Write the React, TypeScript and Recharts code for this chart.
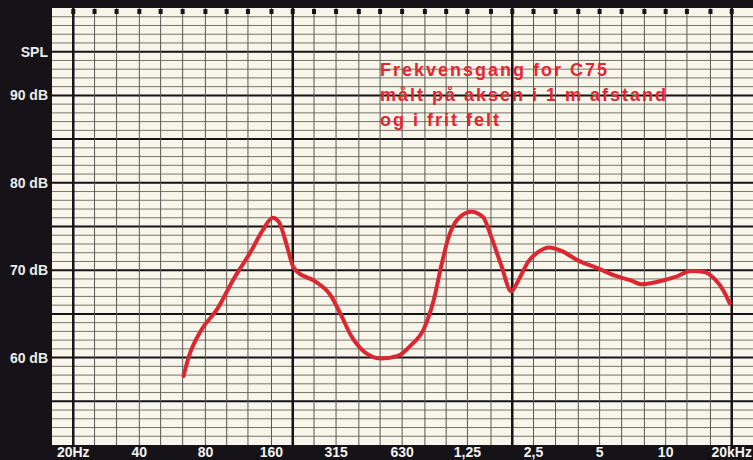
import {
  ComposedChart,
  Line,
  XAxis,
  YAxis,
  CartesianGrid,
  ReferenceLine,
  ReferenceDot,
} from "recharts";

const freqs = [
  63.6, 67, 76, 90.8, 107.6, 128.6, 147, 162, 173, 190, 200, 210, 250, 298,
  333, 369, 422, 504, 602, 690, 792, 880, 950, 1020, 1134, 1300, 1472, 1600,
  1780, 1980, 2130, 2370, 2630, 2950, 3350, 4000, 4930, 5840, 6980, 7720, 9270,
  11000, 13100, 15000, 16700, 18400, 19600,
];
const spl = [
  57.9, 60.0, 63.0, 65.6, 69.0, 72.1, 74.7, 76.0, 75.5, 72.4, 70.5, 69.8, 68.8,
  67.1, 64.8, 62.5, 60.7, 59.9, 60.2, 61.4, 63.3, 66.7, 70.5, 73.6, 75.9, 76.7,
  76.1, 73.9, 70.6, 67.6, 68.8, 71.0, 72.1, 72.6, 72.2, 71.1, 70.2, 69.4, 68.8,
  68.4, 68.7, 69.2, 69.9, 69.8, 69.0, 67.6, 66.2,
];

// x tick labels on the black strip
const freqTicks = [20, 40, 80, 160, 315, 630, 1250, 2500, 5000, 10000, 20000];
const freqLabels = ["20Hz", "40", "80", "160", "315", "630", "1,25", "2,5", "5", "10", "20kHz"];

// y tick labels
const dbTicks = [60, 70, 80, 90, 95];
const dbLabels = ["60 dB", "70 dB", "80 dB", "90 dB", "SPL"];

// third-octave grid of the chart paper
const thirdOctaves = [
  20, 25, 31.5, 40, 50, 63, 80, 100, 125, 160, 200, 250, 315, 400, 500, 630,
  800, 1000, 1250, 1600, 2000, 2500, 3150, 4000, 5000, 6300, 8000, 10000,
  12500, 16000, 20000,
];
const decades = [20, 200, 2000, 20000];
const dbGrid = Array.from({ length: 49 }, (_, i) => 51 + i);

const data = freqs.map((f, i) => ({ f, spl: spl[i] }));

const PAPER = "#f8f5ea";
const INK = "#151317";
const RED = "#dc2630";

const labelFont = "'Liberation Sans', Arial, sans-serif";

const TopMark = (p: any) => (
  <rect x={p.cx - 2} y={p.cy - 2.5} width={4} height={5} fill={INK} />
);

export default function App() {
  return (
    <div
      style={{
        position: "absolute",
        left: 0,
        top: 0,
        width: 753,
        height: 460,
        background: INK,
        overflow: "hidden",
      }}
    >
      <ComposedChart
        width={753}
        height={460}
        data={data}
        margin={{ top: 8, right: 0, left: 0, bottom: 0 }}
      >
        <CartesianGrid fill={PAPER} stroke="none" horizontal={false} vertical={false} />
        <XAxis
          dataKey="f"
          type="number"
          scale="log"
          domain={[16, 25000]}
          allowDataOverflow
          ticks={freqTicks}
          tickFormatter={(v) => freqLabels[freqTicks.indexOf(v)] ?? ""}
          height={15}
          axisLine={false}
          tickLine={false}
          tickSize={0}
          tickMargin={2}
          interval={0}
          tick={{ fill: "#f2f2f2", fontSize: 14, fontWeight: 700, fontFamily: labelFont }}
        />
        <YAxis
          type="number"
          domain={[50, 100]}
          allowDataOverflow
          ticks={dbTicks}
          tickFormatter={(v) => dbLabels[dbTicks.indexOf(v)] ?? ""}
          width={52}
          axisLine={false}
          tickLine={false}
          tickSize={0}
          tickMargin={4}
          interval={0}
          tick={{ fill: "#ececec", fontSize: 14, fontWeight: 700, fontFamily: labelFont }}
        />
        {dbGrid.map((d) => (
          <ReferenceLine
            key={"h" + d}
            y={d}
            stroke={d % 5 === 0 ? INK : "#77736a"}
            strokeWidth={d % 5 === 0 ? 2 : 1}
          />
        ))}
        {thirdOctaves.map((f) => (
          <ReferenceLine
            key={"v" + f}
            x={f}
            stroke={decades.includes(f) ? INK : "#5a5852"}
            strokeWidth={decades.includes(f) ? 2.5 : 1}
          />
        ))}
        {thirdOctaves.map((f) => (
          <ReferenceDot key={"m" + f} x={f} y={99.6} r={2} shape={TopMark} />
        ))}
        <Line
          dataKey="spl"
          type="monotone"
          stroke={RED}
          strokeWidth={4}
          dot={false}
          strokeLinecap="round"
          isAnimationActive={false}
        />
      </ComposedChart>
      <div
        style={{
          position: "absolute",
          left: 380,
          top: 58,
          color: "#e4262f",
          fontFamily: labelFont,
          fontWeight: 700,
          fontSize: 18,
          lineHeight: "25px",
          letterSpacing: 2,
          whiteSpace: "nowrap",
        }}
      >
        Frekvensgang for C75
        <br />
        målt på aksen i 1 m afstand
        <br />
        og i frit felt
      </div>
    </div>
  );
}
